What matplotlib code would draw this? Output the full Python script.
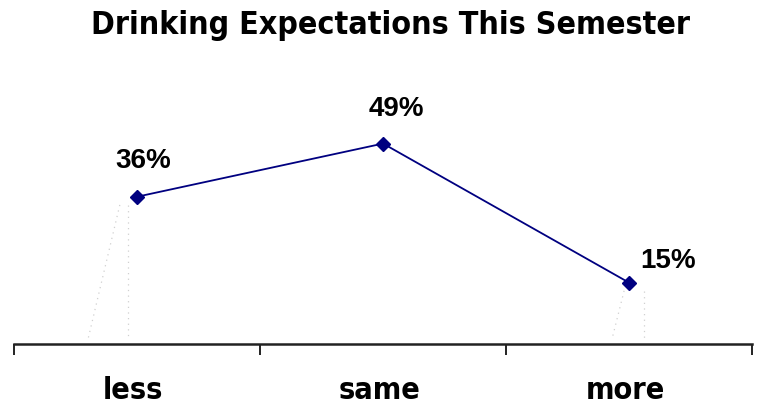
import matplotlib
matplotlib.use("Agg")
import matplotlib.pyplot as plt
from matplotlib import font_manager
from matplotlib.font_manager import FontProperties

categories = ["less", "same", "more"]
values = [36, 49, 15]
title = "Drinking Expectations This Semester"


def pick_font():
    # prefer a condensed bold face if one is installed
    for f in font_manager.fontManager.ttflist:
        if "Narrow" in f.name or ("Condensed" in f.fname and "Bold" in f.fname
                                  and "Oblique" not in f.fname and "Italic" not in f.fname):
            if f.weight in ("bold", 700) or "Bold" in f.fname:
                return FontProperties(fname=f.fname), True
    return FontProperties(family="Liberation Sans", weight="bold"), False


cond_fp, is_condensed = pick_font()

fig = plt.figure(figsize=(7.59, 4.08), dpi=100)
ax = fig.add_axes([0.0185, 0.1569, 0.9723, 0.6015])

x = [0.5, 1.5, 2.5]
line_color = "#000080"

# faint shadow guides under the outer points
guides = {0: [(-0.035, -0.035), (-0.07, -0.20)], 2: [(0.06, 0.06), (-0.02, -0.07)]}
for i, segs in guides.items():
    for top_dx, bot_dx in segs:
        ax.plot([x[i] + top_dx, x[i] + bot_dx], [values[i] - 2, 1], color="#d0d0d0",
                lw=0.9, ls=(0, (1, 3.5)), zorder=1)

ax.plot(x, values, color=line_color, lw=1.3, marker="D", ms=7,
        markerfacecolor=line_color, markeredgecolor=line_color, zorder=3)

label_offsets = [(6, 36), (13, 35), (39, 22)]  # pixels right / up from each point
for xi, v, (dx, dy) in zip(x, values, label_offsets):
    ax.annotate(f"{v}%", (xi, v), xytext=(dx * 0.72, dy * 0.72),
                textcoords="offset points", ha="center", va="center",
                fontsize=20, fontweight="bold", family="Liberation Sans")

ax.set_xlim(0, 3)
ax.set_ylim(0, 60)
ax.set_xticks([0, 1, 2, 3])
ax.set_xticklabels([])
ax.tick_params(axis="x", direction="out", length=8, width=1.4, color="#222222")
ax.set_yticks([])
for s in ["top", "right", "left"]:
    ax.spines[s].set_visible(False)
ax.spines["bottom"].set_linewidth(1.8)
ax.spines["bottom"].set_color("#222222")

cat_size = 22 if is_condensed else 20
for xi, c in zip(x, categories):
    ax.text(xi - 0.015, -11.4, c, ha="center", va="center",
            fontproperties=cond_fp, fontsize=cat_size)

fig.text(0.514, 0.938, title, ha="center", va="center",
         fontproperties=cond_fp, fontsize=23 if is_condensed else 24)

fig.savefig("out.png", dpi=100)
